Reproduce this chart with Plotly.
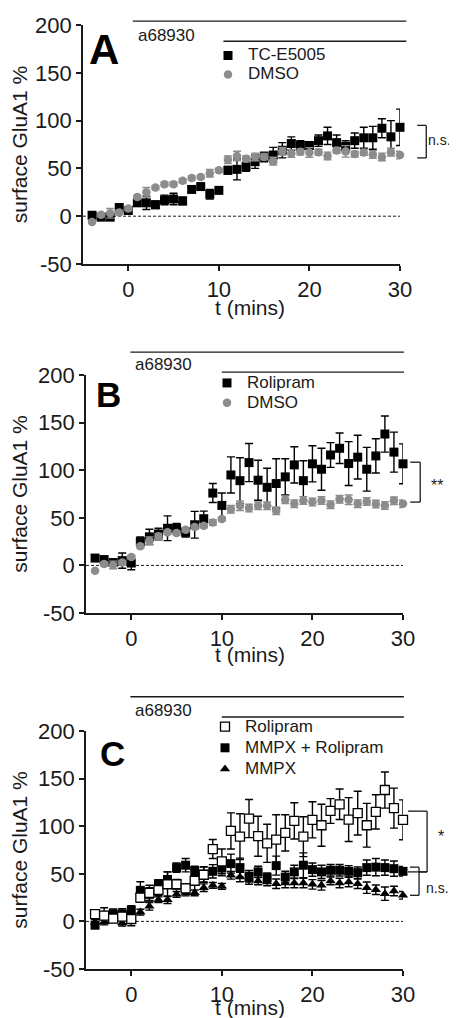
import plotly.graph_objects as go

# ---------------- data ----------------
t = list(range(-4, 31))

# Panel A
a_tc = [1, -1, -1, 9, 6, 14, 14, 12, 17, 18, 16, 28, 31, 23, 27, 48, 49, 52, 57, 62, 64, 69, 76, 74, 74, 79, 84, 77, 73, 79, 82, 82, 92, 83, 93]
a_tc_err = [2, 3, 3, 4, 3, 3, 7, 4, 5, 6, 4, 3, 2, 5, 2, 4, 11, 5, 7, 5, 8, 8, 7, 5, 4, 6, 9, 8, 6, 8, 11, 12, 10, 17, 19]
a_dmso = [-6, 1.5, 3, 4, 8, 20, 25, 30, 33.5, 33.5, 37, 40, 41, 45, 48, 59, 63, 60, 62, 62, 57.6, 68, 65.6, 67.3, 66.7, 67, 63, 68.8, 67.8, 65, 66.7, 64.6, 62, 67, 64]
a_dmso_err = [1, 2, 5, 2, 2, 2, 5, 2, 2, 2, 2, 2, 2, 4, 2, 4, 5, 3, 4, 3, 4, 4, 4, 3, 5, 3, 4, 3, 6, 3, 3, 4, 4, 4, 4]

# Panel B
b_rol = [7.7, 6, 3, 5, 2.5, 25, 30, 33, 39, 39, 34.7, 42.7, 49, 76, 63, 95, 89, 108, 89.5, 82, 86, 93, 105.6, 89, 106.7, 101, 116, 123, 107, 113.7, 101, 115, 138, 119, 106.7]
b_rol_err = [2, 4, 3, 8, 7, 5, 8, 6, 13, 5, 5, 14, 8, 10, 13, 19, 24, 20, 21, 20, 26, 19, 19, 21, 19, 22, 13, 16, 23, 23, 23, 18, 19, 21, 21]
b_dmso = [-5.6, 1.4, 0.5, 3, 8.8, 20, 26, 30.5, 34.7, 34, 37.4, 40.3, 41.6, 45, 48.7, 59, 62.6, 60.2, 62.6, 62.6, 57.4, 69, 64.7, 68.2, 66.5, 68.2, 63.7, 69.6, 69, 64.7, 67.2, 64.4, 63, 67.9, 64.7]
b_dmso_err = [1, 2, 4, 2, 2, 2, 4, 3, 2, 2, 2, 2, 2, 3, 2, 4, 5, 4, 4, 4, 4, 4, 4, 4, 4, 4, 4, 4, 5, 4, 4, 4, 4, 4, 4]

# Panel C
c_rol = b_rol
c_rol_err = b_rol_err
c_mmpx_rol = [-4, 6.3, 8, 7.4, 11.6, 32.6, 28.4, 39.6, 44, 56.5, 59, 53, 49.5, 52.6, 56, 60.7, 56.5, 47.4, 52, 46, 58.6, 46.6, 52, 59, 54.4, 52, 53.7, 53.7, 52.6, 51.2, 56.5, 57, 56.5, 55.4, 52.6]
c_mmpx_rol_err = [2, 8, 5, 6, 5, 9, 7, 4, 8, 5, 7, 5, 8, 7, 8, 10, 10, 6, 6, 5, 10, 6, 7, 13, 7, 7, 6, 6, 6, 6, 8, 9, 8, 8, 5]
c_mmpx = [-1, -0.7, 1.8, -1.8, 3, 9.8, 15.8, 22.8, 22.8, 28.4, 29.8, 30, 35.4, 37.9, 36.8, 48.4, 46.6, 44, 42.5, 41.4, 39.6, 40.3, 40.3, 40.3, 38.9, 37.9, 42.5, 40.3, 41.4, 39.6, 35.4, 33.3, 29.1, 31.9, 27.4]
c_mmpx_err = [3, 3, 3, 3, 3, 3, 4, 3, 4, 3, 3, 3, 4, 3, 3, 4, 5, 5, 4, 4, 5, 5, 5, 5, 5, 5, 4, 5, 5, 5, 6, 5, 7, 5, 4]

y_tickvals = [-50, 0, 50, 100, 150, 200]
y_ticktext = ["-50", "0", "50", "100", "150", "200"]
x_tickvals = [0, 10, 20, 30]
x_ticktext = ["0", "10", "20", "30"]

# ---------------- layout helpers ----------------
W, H = 457, 1018
OFF = 8  # the page body margin shifts the figure by this many pixels
XR = [-5, 30]
YR = [-50, 200]
FONT = "Liberation Sans, Arial, Helvetica, sans-serif"
INK = "#1a1a1a"
GREY = "#8c8c8c"

# plot areas in screen pixels: (left, right, top, bottom)
boxes = [(83, 400, 25, 264), (86, 403, 375, 613), (86, 403, 731, 969)]


def sx(p):
    return (p - OFF) / W


def sy(p):
    return 1 - (p - OFF) / H


def fx(v):
    return (v - XR[0]) / (XR[1] - XR[0])


def fy(v):
    return (v - YR[0]) / (YR[1] - YR[0])


fig = go.Figure()


def add_series(i, y, err, name, symbol, color, ecolor, legend, rank, line=None, size=9):
    ax = "" if i == 0 else str(i + 1)
    mk = dict(symbol=symbol, size=size, color=color)
    if line:
        mk["line"] = line
    fig.add_trace(go.Scatter(
        x=t, y=y, mode="markers", name=name, legend=legend, legendrank=rank,
        xaxis="x" + ax, yaxis="y" + ax, marker=mk, cliponaxis=False,
        error_y=dict(type="data", array=err, visible=True, color=ecolor, thickness=1.4, width=4),
    ))


def lname(s):
    return '<span style="font-size:17px">' + s + "</span>"


# Panel A
add_series(0, a_tc, a_tc_err, lname("TC-E5005"), "square", "black", "black", "legend", 1)
add_series(0, a_dmso, a_dmso_err, lname("DMSO"), "circle", GREY, GREY, "legend", 2, size=8.5)
# Panel B
add_series(1, b_rol, b_rol_err, lname("Rolipram"), "square", "black", "black", "legend2", 1)
add_series(1, b_dmso, b_dmso_err, lname("DMSO"), "circle", GREY, GREY, "legend2", 2, size=8.5)
# Panel C
add_series(2, c_mmpx, c_mmpx_err, lname("MMPX"), "triangle-up", "black", "black", "legend3", 3)
add_series(2, c_mmpx_rol, c_mmpx_rol_err, lname("MMPX + Rolipram"), "square", "black", "black", "legend3", 2)
add_series(2, c_rol, c_rol_err, lname("Rolipram"), "square", "white", "black", "legend3", 1,
           line=dict(color="black", width=1.3))

axis_common = dict(
    showline=True, linecolor=INK, linewidth=1.6, ticks="outside", ticklen=5, tickwidth=1.6,
    tickcolor=INK, showgrid=False, zeroline=False, automargin=False,
    tickfont=dict(family=FONT, size=22, color=INK),
)

layout = dict(
    width=W, height=H, margin=dict(l=0, r=0, t=0, b=0, pad=0, autoexpand=False),
    paper_bgcolor="white", plot_bgcolor="white", font=dict(family=FONT, color=INK),
)

shapes = []
annotations = []

letters = ["A", "B", "C"]
letter_sizes = [42, 35, 35]
letter_pos = [(-2.7, 174), (-2.5, 180), (-2.1, 176)]
top_lines = [(204, 0.5, 30.7), (224, -0.1, 30.1), (236, -0.1, 30.1)]
second_lines = [(183, 10.5, 30.7), (203, 10.0, 30.1), (214.7, 10.0, 30.1)]
label_pos = [(0.8, 189.5), (0.2, 210.6), (0.2, 222)]
legend_tops = [41, 368, 711]
legend_left = [208, 207, 205]
legend_fs = [12, 13, 14]
xtitle_cx = 250
xtitle_gap = [43, 41, 38]

for i, (l, r, tp, bt) in enumerate(boxes):
    ax = "" if i == 0 else str(i + 1)
    layout["xaxis" + ax] = dict(domain=[sx(l), sx(r)], range=XR, tickvals=x_tickvals, ticktext=x_ticktext,
                                anchor="y" + ax, **axis_common)
    layout["yaxis" + ax] = dict(
        domain=[sy(bt), sy(tp)], range=YR, tickvals=y_tickvals, ticktext=y_ticktext, anchor="x" + ax,
        title=dict(text="surface GluA1 %", font=dict(family=FONT, size=21, color=INK), standoff=6),
        **axis_common)
    # x-axis title placed just below the tick labels
    annotations.append(dict(text="t (mins)", xref="paper", yref="paper", x=sx(xtitle_cx),
                            y=sy(bt + xtitle_gap[i]), xanchor="center", yanchor="middle", showarrow=False,
                            font=dict(family=FONT, size=21, color=INK)))
    xr, yr = "x" + ax + " domain", "y" + ax + " domain"
    # dotted zero line
    shapes.append(dict(type="line", xref=xr, yref=yr, x0=fx(XR[0]), x1=fx(XR[1]), y0=fy(0), y1=fy(0),
                       line=dict(color=INK, width=1, dash="3px,2px"), layer="below"))
    # treatment bars
    for (yv, xa, xb) in (top_lines[i], second_lines[i]):
        shapes.append(dict(type="line", xref=xr, yref=yr, x0=fx(xa), x1=fx(xb), y0=fy(yv), y1=fy(yv),
                           line=dict(color=INK, width=1.3)))
    annotations.append(dict(text="a68930", xref=xr, yref=yr, x=fx(label_pos[i][0]), y=fy(label_pos[i][1]),
                            xanchor="left", yanchor="middle", showarrow=False,
                            font=dict(family=FONT, size=17, color=INK)))
    annotations.append(dict(text="<b>" + letters[i] + "</b>", xref=xr, yref=yr, x=fx(letter_pos[i][0]),
                            y=fy(letter_pos[i][1]), xanchor="center", yanchor="middle", showarrow=False,
                            font=dict(family=FONT, size=letter_sizes[i], color="black")))
    lg = "legend" if i == 0 else "legend" + str(i + 1)
    layout[lg] = dict(x=sx(legend_left[i]), y=sy(legend_tops[i]), xanchor="left", yanchor="top",
                      bgcolor="rgba(0,0,0,0)", borderwidth=0,
                      font=dict(family=FONT, size=legend_fs[i], color=INK), traceorder="normal")


def bracket(i, x_in, x_out, y_top, y_bot, ends=(True, True)):
    ax = "" if i == 0 else str(i + 1)
    xr, yr = "x" + ax + " domain", "y" + ax + " domain"
    ln = dict(color=INK, width=1.3)
    shapes.append(dict(type="line", xref=xr, yref=yr, x0=fx(x_out), x1=fx(x_out), y0=fy(y_bot), y1=fy(y_top), line=ln))
    if ends[0]:
        shapes.append(dict(type="line", xref=xr, yref=yr, x0=fx(x_in), x1=fx(x_out), y0=fy(y_top), y1=fy(y_top), line=ln))
    if ends[1]:
        shapes.append(dict(type="line", xref=xr, yref=yr, x0=fx(x_in), x1=fx(x_out), y0=fy(y_bot), y1=fy(y_bot), line=ln))


def label(i, x, y, s, size=14):
    ax = "" if i == 0 else str(i + 1)
    annotations.append(dict(text=s, xref="x" + ax + " domain", yref="y" + ax + " domain", x=fx(x), y=fy(y),
                            xanchor="left", yanchor="middle", showarrow=False, borderpad=0,
                            font=dict(family=FONT, size=size, color=INK)))


bracket(0, 31.9, 32.9, 95, 61)
label(0, 33.0, 80, "n.s.")
bracket(1, 30.8, 31.9, 108.4, 66.5)
label(1, 33.0, 84, "**", size=16)
bracket(2, 30.55, 32.66, 115.8, 52)
shapes.append(dict(type="line", xref="x3 domain", yref="y3 domain", x0=fx(31.77), x1=fx(32.66),
                   y0=fy(52), y1=fy(52), line=dict(color=INK, width=1.3)))
bracket(2, 30.77, 31.77, 57, 27.4)
label(2, 33.8, 89, "*", size=16)
label(2, 32.4, 34.7, "n.s.")

layout["shapes"] = shapes
layout["annotations"] = annotations
fig.update_layout(**layout)
fig.write_html("out.html")
